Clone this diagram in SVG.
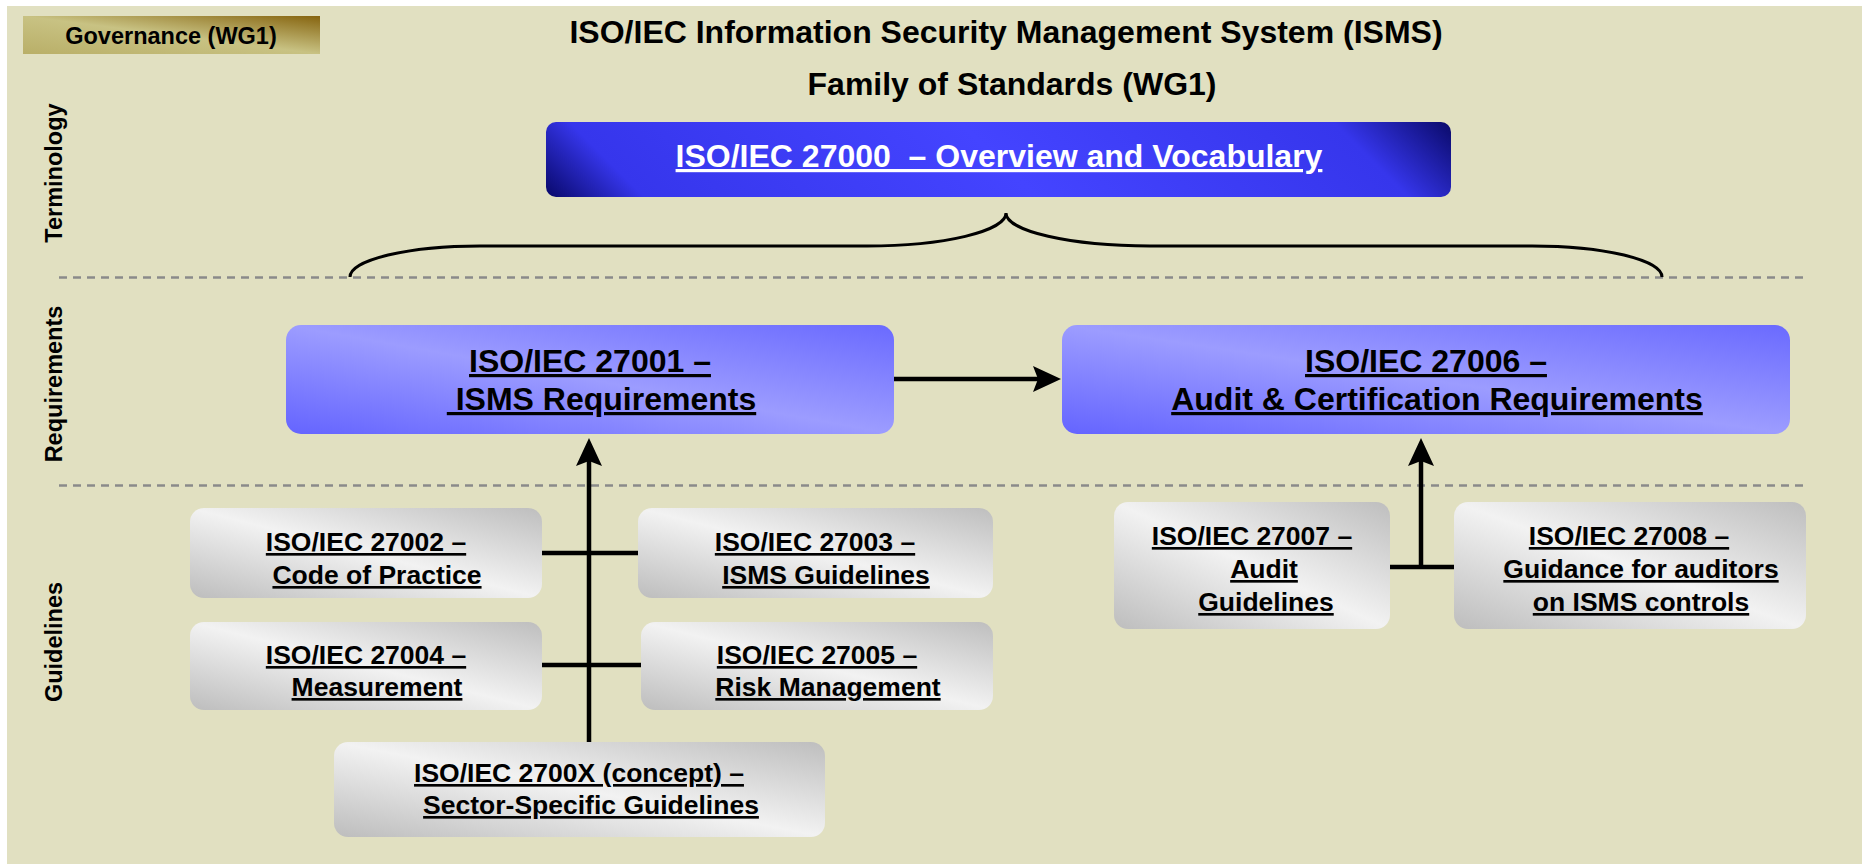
<svg xmlns="http://www.w3.org/2000/svg" width="1862" height="865" viewBox="0 0 1862 865">
<defs>
<style>
text{font-family:"Liberation Sans",Arial,sans-serif;font-weight:bold;fill:#000}
.u{text-decoration:underline}
.big{font-size:32px}
.sm{font-size:26.5px}
.lbl{font-size:23.5px}
.wht{fill:#fff}
.conn{stroke:#000;stroke-width:4.5;fill:none}
.dash{stroke:#8A8A8A;stroke-width:2.5;stroke-dasharray:8 6;fill:none}
</style>
<linearGradient id="gGold" x1="0" y1="1" x2="1" y2="0">
<stop offset="0" stop-color="#B9AF68"/>
<stop offset="0.5" stop-color="#C8C283"/>
<stop offset="1" stop-color="#86640F"/>
</linearGradient>
<linearGradient id="gNavy" gradientUnits="userSpaceOnUse" x1="546" y1="197" x2="1036" y2="-293">
<stop offset="0" stop-color="#08086A"/>
<stop offset="0.1" stop-color="#3636EC"/>
<stop offset="0.5" stop-color="#4444FF"/>
<stop offset="0.88" stop-color="#3636EC"/>
<stop offset="1" stop-color="#0A0A6A"/>
</linearGradient>
<linearGradient id="gBlue" x1="0" y1="1" x2="1" y2="0">
<stop offset="0" stop-color="#6464FF"/>
<stop offset="0.5" stop-color="#9C9CFF"/>
<stop offset="1" stop-color="#6A6AFF"/>
</linearGradient>
<linearGradient id="gGray" x1="0" y1="1" x2="1" y2="0">
<stop offset="0" stop-color="#BDBDBD"/>
<stop offset="0.5" stop-color="#F2F2F2"/>
<stop offset="1" stop-color="#BEBEBE"/>
</linearGradient>
<marker id="arr" viewBox="0 0 28 26" refX="8" refY="13" markerWidth="28" markerHeight="26" markerUnits="userSpaceOnUse" orient="auto">
<path d="M0,0 L28,13 L0,26 L5,13 Z" fill="#000"/>
</marker>
</defs>
<rect x="0" y="0" width="1862" height="865" fill="#fff"/>
<rect x="7" y="6" width="1855" height="858" fill="#E1E0C1"/>

<g id="governance">
<rect x="23" y="16" width="297" height="38" fill="url(#gGold)"/>
<text x="171" y="44" text-anchor="middle" style="font-size:23.5px">Governance (WG1)</text>
</g>

<g id="title">
<text x="1006" y="43" text-anchor="middle" class="big">ISO/IEC Information Security Management System (ISMS)</text>
<text x="1012" y="95" text-anchor="middle" class="big">Family of Standards (WG1)</text>
</g>

<g id="lane-labels">
<text class="lbl" text-anchor="middle" transform="translate(62,173) rotate(-90)">Terminology</text>
<text class="lbl" text-anchor="middle" transform="translate(62,384) rotate(-90)">Requirements</text>
<text class="lbl" text-anchor="middle" transform="translate(62,642) rotate(-90)">Guidelines</text>
</g>

<g id="separators">
<line class="dash" x1="59" y1="277.5" x2="1803" y2="277.5"/>
<line class="dash" x1="59" y1="485.5" x2="1803" y2="485.5"/>
</g>

<g id="connectors">
<path class="conn" style="stroke-width:3" d="M350,277 A130,31 0 0 1 480,246 L867,246 A139,33 0 0 0 1006,213 A144,33 0 0 0 1150,246 L1532,246 A130,31 0 0 1 1662,277"/>
<line class="conn" x1="894" y1="379" x2="1041" y2="379" marker-end="url(#arr)"/>
<line class="conn" x1="589" y1="742" x2="589" y2="458" marker-end="url(#arr)"/>
<line class="conn" x1="1421" y1="567" x2="1421" y2="458" marker-end="url(#arr)"/>
<line class="conn" x1="542" y1="553" x2="638" y2="553"/>
<line class="conn" x1="542" y1="665" x2="641" y2="665"/>
<line class="conn" x1="1390" y1="567" x2="1454" y2="567"/>
</g>

<g id="n27000">
<rect x="546" y="122" width="905" height="75" rx="10" fill="url(#gNavy)"/>
<text x="999" y="167" text-anchor="middle" class="big u wht" xml:space="preserve">ISO/IEC 27000  – Overview and Vocabulary</text>
</g>

<g id="n27001">
<rect x="286" y="325" width="608" height="109" rx="15" fill="url(#gBlue)"/>
<text x="590" y="372" text-anchor="middle" class="big u">ISO/IEC 27001 –</text>
<text x="601.5" y="410" text-anchor="middle" class="big u" xml:space="preserve"> ISMS Requirements</text>
</g>

<g id="n27006">
<rect x="1062" y="325" width="728" height="109" rx="15" fill="url(#gBlue)"/>
<text x="1426" y="372" text-anchor="middle" class="big u">ISO/IEC 27006 –</text>
<text x="1437" y="410" text-anchor="middle" class="big u">Audit &amp; Certification Requirements</text>
</g>

<g id="n27002">
<rect x="190" y="508" width="352" height="90" rx="14" fill="url(#gGray)"/>
<text x="366" y="551" text-anchor="middle" class="sm u">ISO/IEC 27002 –</text>
<text x="377" y="584" text-anchor="middle" class="sm u">Code of Practice</text>
</g>

<g id="n27003">
<rect x="638" y="508" width="355" height="90" rx="14" fill="url(#gGray)"/>
<text x="815" y="551" text-anchor="middle" class="sm u">ISO/IEC 27003 –</text>
<text x="826" y="584" text-anchor="middle" class="sm u">ISMS Guidelines</text>
</g>

<g id="n27004">
<rect x="190" y="622" width="352" height="88" rx="14" fill="url(#gGray)"/>
<text x="366" y="664" text-anchor="middle" class="sm u">ISO/IEC 27004 –</text>
<text x="377" y="696" text-anchor="middle" class="sm u">Measurement</text>
</g>

<g id="n27005">
<rect x="641" y="622" width="352" height="88" rx="14" fill="url(#gGray)"/>
<text x="817" y="664" text-anchor="middle" class="sm u">ISO/IEC 27005 –</text>
<text x="828" y="696" text-anchor="middle" class="sm u">Risk Management</text>
</g>

<g id="n2700X">
<rect x="334" y="742" width="491" height="95" rx="14" fill="url(#gGray)"/>
<text x="579" y="782" text-anchor="middle" class="sm u">ISO/IEC 2700X (concept) –</text>
<text x="591" y="814" text-anchor="middle" class="sm u">Sector-Specific Guidelines</text>
</g>

<g id="n27007">
<rect x="1114" y="502" width="276" height="127" rx="14" fill="url(#gGray)"/>
<text x="1252" y="545" text-anchor="middle" class="sm u">ISO/IEC 27007 –</text>
<text x="1264" y="578" text-anchor="middle" class="sm u">Audit</text>
<text x="1266" y="611" text-anchor="middle" class="sm u">Guidelines</text>
</g>

<g id="n27008">
<rect x="1454" y="502" width="352" height="127" rx="14" fill="url(#gGray)"/>
<text x="1629" y="545" text-anchor="middle" class="sm u">ISO/IEC 27008 –</text>
<text x="1641" y="578" text-anchor="middle" class="sm u">Guidance for auditors</text>
<text x="1641" y="611" text-anchor="middle" class="sm u">on ISMS controls</text>
</g>
</svg>
